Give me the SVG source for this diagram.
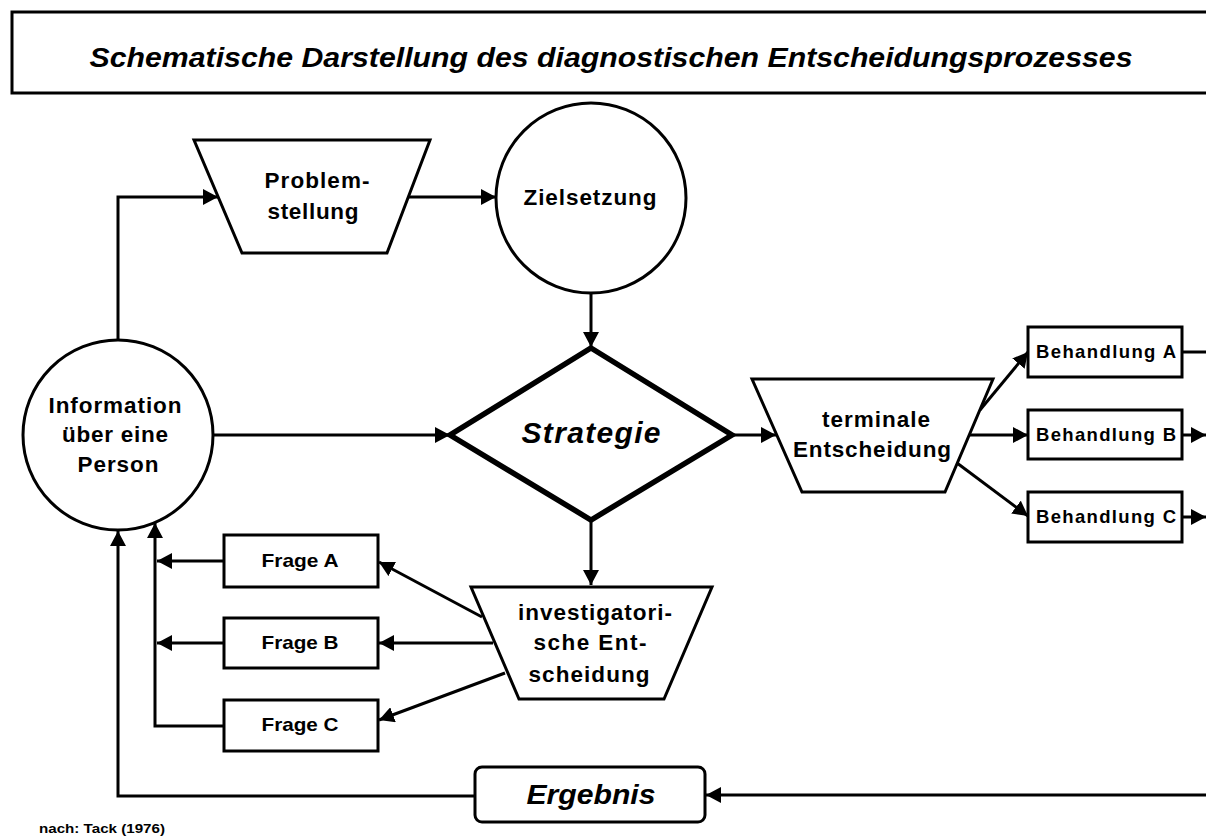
<svg xmlns="http://www.w3.org/2000/svg" width="1206" height="837" viewBox="0 0 1206 837">
<defs>
<style>
.shape{fill:#fff;stroke:#000;stroke-width:3}
.thick{fill:#fff;stroke:#000;stroke-width:5.5;stroke-linejoin:miter}
.ln{fill:none;stroke:#000;stroke-width:3}
.arr{fill:none;stroke:#000;stroke-width:3;marker-end:url(#ah)}
text{font-family:"Liberation Sans",Arial,sans-serif;font-weight:bold;fill:#000;text-anchor:middle}
.n{font-size:22.5px}
.s{font-size:18.5px}
.bi{font-style:italic}
</style>
<marker id="ah" markerUnits="userSpaceOnUse" markerWidth="16" markerHeight="16" refX="15" refY="8" orient="auto">
<path d="M0,0 L15,8 L0,16 z" fill="#000"/>
</marker>
</defs>
<rect x="0" y="0" width="1206" height="837" fill="#fff"/>
<g id="title">
<rect class="shape" x="12" y="12" width="1200" height="81"/>
<text class="bi" x="611" y="67" font-size="27" textLength="1043" lengthAdjust="spacingAndGlyphs">Schematische Darstellung des diagnostischen Entscheidungsprozesses</text>
</g>
<g id="connectors">
<polyline class="arr" points="118,340 118,197 218,197"/>
<line class="arr" x1="408" y1="197" x2="496" y2="197"/>
<line class="arr" x1="591" y1="293" x2="591" y2="347"/>
<line class="arr" x1="213" y1="435" x2="450" y2="435"/>
<line class="arr" x1="734" y1="435" x2="776" y2="435"/>
<line class="arr" x1="980" y1="410" x2="1028" y2="352"/>
<line class="arr" x1="970" y1="435" x2="1028" y2="435"/>
<line class="arr" x1="957" y1="463" x2="1028" y2="516"/>
<line class="ln" x1="1182" y1="352" x2="1206" y2="352"/>
<line class="arr" x1="1182" y1="435" x2="1206" y2="435"/>
<line class="arr" x1="1182" y1="517" x2="1206" y2="517"/>
<line class="arr" x1="591" y1="522" x2="591" y2="585"/>
<line class="arr" x1="482" y1="617" x2="379" y2="562"/>
<line class="arr" x1="493" y1="643" x2="379" y2="643"/>
<line class="arr" x1="505" y1="673" x2="379" y2="720"/>
<line class="arr" x1="224" y1="561" x2="157" y2="561"/>
<line class="arr" x1="224" y1="643" x2="157" y2="643"/>
<polyline class="arr" points="224,726 155,726 155,523"/>
<line class="arr" x1="1206" y1="795" x2="706" y2="795"/>
<polyline class="arr" points="475,796 118,796 118,531"/>
</g>
<g id="problemstellung">
<polygon class="shape" points="194,140 430,140 387,253 242,253"/>
<text class="n" x="317" y="188" textLength="105" lengthAdjust="spacing">Problem-</text>
<text class="n" x="313" y="219" textLength="91" lengthAdjust="spacing">stellung</text>
</g>
<g id="information">
<circle class="shape" cx="118" cy="435" r="95"/>
<text class="n" x="115" y="413" textLength="133" lengthAdjust="spacing">Information</text>
<text class="n" x="115" y="442" textLength="106" lengthAdjust="spacing">über eine</text>
<text class="n" x="118" y="472" textLength="81" lengthAdjust="spacing">Person</text>
</g>
<g id="zielsetzung">
<circle class="shape" cx="591" cy="198" r="95"/>
<text class="n" x="590" y="205" textLength="133" lengthAdjust="spacing">Zielsetzung</text>
</g>
<g id="strategie">
<polygon class="thick" points="591,348 732,435 591,520 450,435"/>
<text class="bi" x="591" y="443" font-size="30" textLength="139" lengthAdjust="spacing">Strategie</text>
</g>
<g id="terminale">
<polygon class="shape" points="752,379 993,379 945,492 802,492"/>
<text class="n" x="876" y="427" textLength="108" lengthAdjust="spacing">terminale</text>
<text class="n" x="872" y="457" textLength="158" lengthAdjust="spacing">Entscheidung</text>
</g>
<g id="behandlungA">
<rect class="shape" x="1028" y="327" width="154" height="50"/>
<text class="s" x="1106" y="358" textLength="140" lengthAdjust="spacing">Behandlung A</text>
</g>
<g id="behandlungB">
<rect class="shape" x="1028" y="410" width="154" height="49"/>
<text class="s" x="1106" y="441" textLength="140" lengthAdjust="spacing">Behandlung B</text>
</g>
<g id="behandlungC">
<rect class="shape" x="1028" y="492" width="154" height="50"/>
<text class="s" x="1106" y="523" textLength="140" lengthAdjust="spacing">Behandlung C</text>
</g>
<g id="investigatorische">
<polygon class="shape" points="471,587 712,587 664,699 519,699"/>
<text class="n" x="595" y="620" textLength="154" lengthAdjust="spacing">investigatori-</text>
<text class="n" x="590" y="650" textLength="113" lengthAdjust="spacing">sche Ent-</text>
<text class="n" x="589" y="682" textLength="121" lengthAdjust="spacing">scheidung</text>
</g>
<g id="frageA">
<rect class="shape" x="224" y="535" width="154" height="52"/>
<text class="s" x="300" y="567" textLength="77" lengthAdjust="spacingAndGlyphs">Frage A</text>
</g>
<g id="frageB">
<rect class="shape" x="224" y="618" width="154" height="50"/>
<text class="s" x="300" y="649" textLength="77" lengthAdjust="spacingAndGlyphs">Frage B</text>
</g>
<g id="frageC">
<rect class="shape" x="224" y="700" width="154" height="51"/>
<text class="s" x="300" y="731" textLength="77" lengthAdjust="spacingAndGlyphs">Frage C</text>
</g>
<g id="ergebnis">
<rect class="shape" x="475" y="767" width="230" height="55" rx="7" ry="7"/>
<text class="bi" x="591" y="804" font-size="28" textLength="129" lengthAdjust="spacingAndGlyphs">Ergebnis</text>
</g>
<g id="footer">
<text x="39" y="833" font-size="13" style="text-anchor:start" textLength="126" lengthAdjust="spacingAndGlyphs">nach: Tack (1976)</text>
</g>
</svg>
